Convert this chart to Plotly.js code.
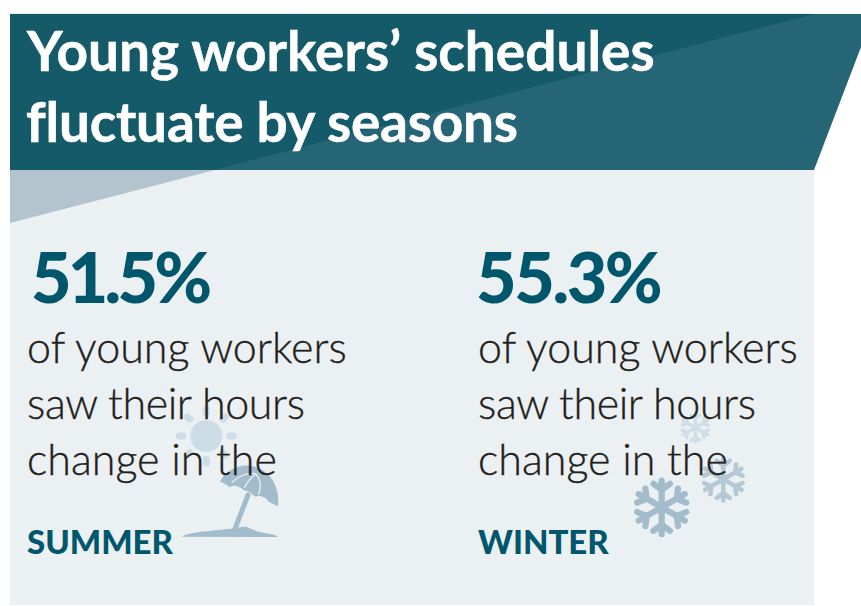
<!DOCTYPE html>
<html><head><meta charset="utf-8">
<script src="https://cdn.plot.ly/plotly-3.0.1.min.js"></script>
<style>html,body{margin:0;padding:0;background:#fff}#c{width:861px;height:606px}
.shapelayer path{stroke-linecap:round;stroke-linejoin:round}
.annotation[data-index="1"] text{letter-spacing:-.25px}
.annotation[data-index="2"] text{letter-spacing:-3.8px}
.annotation[data-index="7"] text{letter-spacing:-2.4px}
.annotation[data-index="4"] text,.annotation[data-index="9"] text{letter-spacing:-.4px}
.annotation[data-index="3"] text,.annotation[data-index="4"] text,.annotation[data-index="5"] text,
.annotation[data-index="8"] text,.annotation[data-index="9"] text,.annotation[data-index="10"] text{stroke:#231f20;stroke-width:.35px}
.annotation[data-index="0"] text,.annotation[data-index="1"] text{stroke:#fff;stroke-width:.5px}
</style></head><body><div id="c"></div>
<script>
const titleLines = ["Young workers’ schedules", "fluctuate by seasons"];
const seasons = ["SUMMER", "WINTER"];
const shares = [51.5, 55.3];
const bodyLines = ["of young workers", "saw their hours", "change in the"];
const DARK="#155a69", MID="#266575", GREY="#b3c4ce", PANEL="#ebf0f3", TEAL="#00576b", INK="#231f20";
const BODY="Lato";
function poly(pts,fill){return {type:"path",xref:"x",yref:"y",path:"M"+pts.map(p=>p.join(",")).join("L")+"Z",fillcolor:fill,line:{width:0},layer:"below"};}
function stroke(path,color,w){return {type:"path",xref:"x",yref:"y",path:path,line:{color:color,width:w},layer:"below"};}
function z(d,ox,oy){let i=0;return d.replace(/-?\d+(\.\d+)?/g,m=>{const v=+m/3+(i++%2?oy:ox);return v.toFixed(1);});}
function flake(cx,cy,r,color,w){
  let d="";
  for(let k=0;k<6;k++){
    const a=k*Math.PI/3-Math.PI/2;
    const tx=cx+r*Math.cos(a)*0.86,ty=cy+r*Math.sin(a)*0.86;
    d+=`M${cx},${cy}L${tx.toFixed(1)},${ty.toFixed(1)}`;
    const bx=cx+r*0.56*Math.cos(a),by=cy+r*0.56*Math.sin(a);
    for(const s of [-1,1]){
      const b=a+s*Math.PI/3.4;
      d+=`M${bx.toFixed(1)},${by.toFixed(1)}L${(bx+r*0.33*Math.cos(b)).toFixed(1)},${(by+r*0.33*Math.sin(b)).toFixed(1)}`;
    }
  }
  return stroke(d,color,w);
}
function sun(cx,cy,r,color){
  const out=[{type:"circle",xref:"x",yref:"y",x0:cx-r,x1:cx+r,y0:cy-r,y1:cy+r,fillcolor:color,line:{width:0},layer:"below"}];
  let d="";
  for(let k=0;k<8;k++){
    const a=k*Math.PI/4;
    d+=`M${(cx+23.5*Math.cos(a)).toFixed(1)},${(cy+23.5*Math.sin(a)).toFixed(1)}L${(cx+27*Math.cos(a)).toFixed(1)},${(cy+27*Math.sin(a)).toFixed(1)}`;
  }
  out.push(stroke(d,color,7));
  return out;
}
const ox=160,oy=400,UMB="#a3bccb";
const canopy=z("M180 245C195 212 235 192 270 197C320 203 362 250 354 319C345 312 335 312 326 305C318 292 300 284 286 290C275 280 262 272 250 270C240 258 220 252 209 262C200 255 190 247 180 245Z",ox,oy);
const ground=z("M65 410C85 396 170 392 222 385C240 382 250 378 262 381C280 390 300 398 320 400C335 402 348 406 355 411Z",ox,oy);
const pole=z("M264 285L226 384",ox,oy);
const ribs=z("M217 246C235 228 265 216 288 222M254 262C262 246 272 232 288 222M296 282C304 262 302 240 288 222",ox,oy);
const shapes=[
  poly([[10,170],[814,170],[814,605],[10,605]],PANEL),
  poly([[10,170],[215,170],[10,223]],GREY),
  poly([[10,14],[814,14],[814,170],[10,170]],DARK),
  poly([[814,14],[814,170],[214,170]],MID),
  poly([[814,14],[861,14],[861,47],[814,170]],MID),
  stroke("M10,13.5L814,13.5","#e3eaed",1),
  ...sun(206.3,436,16,"#cddde6"),
  stroke(pole,UMB,5),
  {type:"path",xref:"x",yref:"y",path:canopy,fillcolor:UMB,line:{width:0},layer:"below"},
  {type:"path",xref:"x",yref:"y",path:ground,fillcolor:UMB,line:{width:0},layer:"below"},
  stroke(ribs,PANEL,1.3),
  flake(661.7,507.3,31,"#a3bccb",6.2),
  flake(723.3,479.3,24.5,"#b5c8d3",4.5),
  flake(695.3,427.7,16.5,"#cfdde5",3.2)
];
function txt(t,x,y,size,color,weight,fam){return {text:t,x:x,y:y,xref:"x",yref:"y",xanchor:"left",yanchor:"bottom",showarrow:false,borderpad:0,align:"left",font:{family:fam||"Lato",size:size,color:color,weight:weight}};}
const colX=[26,477];
const annotations=[];
titleLines.forEach((t,i)=>annotations.push(txt(t,25,[84,155][i],55,"#ffffff",700)));
colX.forEach((x,c)=>{
  annotations.push(txt(shares[c].toFixed(1)+"%",[30,475][c],319,70,TEAL,900));
  bodyLines.forEach((t,i)=>annotations.push(txt(t,x,[373,429,485][i],43,INK,300,BODY)));
  annotations.push(txt(seasons[c],x,562,33,TEAL,900));
});
Plotly.newPlot("c",[],{
  width:861,height:606,margin:{l:0,r:0,t:0,b:0},
  paper_bgcolor:"#fff",plot_bgcolor:"#fff",showlegend:false,
  xaxis:{range:[0,861],visible:false,fixedrange:true},
  yaxis:{range:[606,0],visible:false,fixedrange:true},
  shapes:shapes,annotations:annotations
},{displayModeBar:false,staticPlot:true});
</script></body></html>
